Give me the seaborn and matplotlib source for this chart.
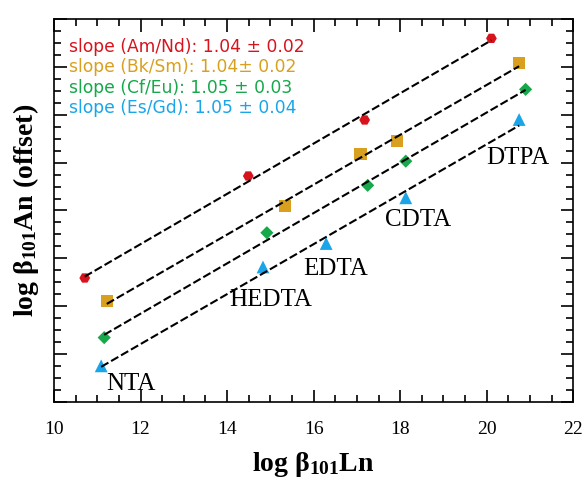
import numpy as np
import pandas as pd
import matplotlib
matplotlib.use("Agg")
import matplotlib.pyplot as plt
import seaborn as sns
from matplotlib.ticker import MultipleLocator

# values (y is offset, unlabelled)
am_x = [10.71, 14.49, 17.18, 20.11]
am_y = [5.18, 9.44, 11.78, 15.19]
bk_x = [11.22, 15.34, 17.08, 17.93, 20.75]
bk_y = [4.21, 8.18, 10.36, 10.90, 14.15]
cf_x = [11.16, 14.92, 17.25, 18.13, 20.90]
cf_y = [2.69, 7.07, 9.05, 10.06, 13.06]
es_x = [11.09, 14.83, 16.29, 18.13, 20.75]
es_y = [1.51, 5.64, 6.62, 8.53, 11.80]

series = ["Am/Nd", "Bk/Sm", "Cf/Eu", "Es/Gd"]
slopes = ["1.04 \u00b1 0.02", "1.04\u00b1 0.02", "1.05 \u00b1 0.03", "1.05 \u00b1 0.04"]
colors = ["#d7141e", "#d9a020", "#16a84a", "#1aa5e8"]
markers = ["H", "s", "D", "^"]
sizes = [60, 80, 45, 85]

ligands = ["NTA", "HEDTA", "EDTA", "CDTA", "DTPA"]
lig_x = [11.2, 14.05, 15.75, 17.65, 20.0]
lig_y = [0.75, 4.25, 5.55, 7.6, 10.2]

xs = [am_x, bk_x, cf_x, es_x]
ys = [am_y, bk_y, cf_y, es_y]
df = pd.concat([pd.DataFrame({"x": x, "y": y, "pair": s}) for x, y, s in zip(xs, ys, series)])

plt.rcParams["mathtext.fontset"] = "custom"
plt.rcParams["mathtext.rm"] = "Liberation Serif:bold"
plt.rcParams["mathtext.it"] = "Liberation Serif:bold"
plt.rcParams["mathtext.bf"] = "Liberation Serif:bold"
plt.rcParams["xtick.labelsize"] = 14
plt.rcParams["xtick.major.pad"] = 14

fig = plt.figure(figsize=(5.84, 4.8), dpi=100)
ax = fig.add_axes([0.0925, 0.1625, 0.889, 0.798])

for i, s in enumerate(series):
    d = df[df.pair == s]
    sns.scatterplot(data=d, x="x", y="y", color=colors[i], marker=markers[i], s=sizes[i],
                    edgecolor="none", ax=ax, zorder=2, legend=False)
    sns.regplot(data=d, x="x", y="y", scatter=False, ci=None, ax=ax, truncate=True,
                line_kws=dict(color="black", lw=1.5, ls=(0, (4, 1.5)), zorder=3))

for i, s in enumerate(series):
    ax.text(10.34, 14.84 - i * 0.86, f"slope ({s}): {slopes[i]}", color=colors[i],
            fontsize=12.3, family="DejaVu Sans", va="center")

for name, x, y in zip(ligands, lig_x, lig_y):
    ax.text(x, y, name, fontsize=18, family="Liberation Serif", va="center")

ax.set_xlim(10, 22)
ax.set_ylim(0, 16)
ax.xaxis.set_major_locator(MultipleLocator(2))
ax.xaxis.set_minor_locator(MultipleLocator(0.5))
ax.yaxis.set_major_locator(MultipleLocator(2))
ax.yaxis.set_minor_locator(MultipleLocator(0.5))
ax.tick_params(which="both", direction="in", top=True, right=True, width=1.2)
ax.tick_params(which="major", length=9)
ax.tick_params(which="minor", length=5)
ax.tick_params(axis="y", labelleft=False)
for lab in ax.get_xticklabels():
    lab.set_family("Liberation Serif")
    lab.set_fontsize(14)
for sp in ax.spines.values():
    sp.set_linewidth(1.2)

ax.set_xlabel(r"log $\beta_{101}$Ln", fontsize=20, family="Liberation Serif", fontweight="bold", labelpad=8)
ax.set_ylabel(r"log $\beta_{101}$An (offset)", fontsize=20, family="Liberation Serif", fontweight="bold", labelpad=6)

fig.savefig("out.png", dpi=100)
